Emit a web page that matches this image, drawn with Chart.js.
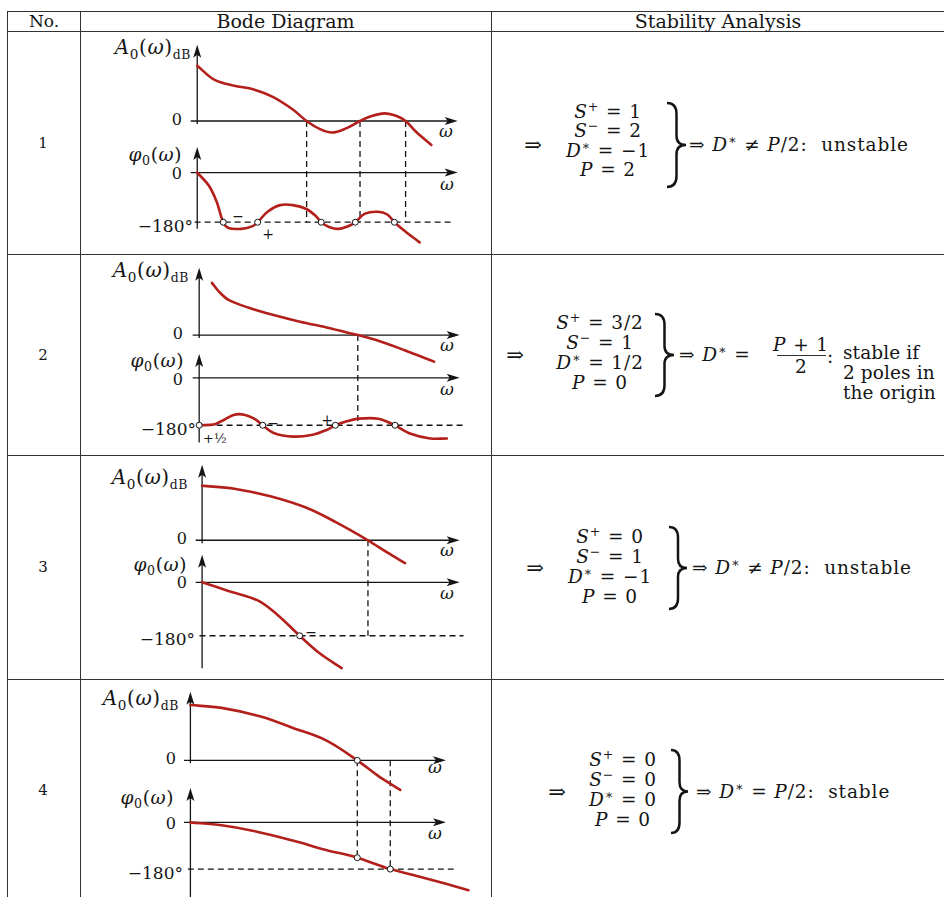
<!DOCTYPE html>
<html><head><meta charset="utf-8">
<script src="https://cdn.jsdelivr.net/npm/chart.js@4"></script>
<style>
body{margin:0;background:#fff;}
#stage{position:relative;width:944px;height:897px;overflow:hidden;background:#fff;font-family:"DejaVu Serif",serif;color:#151515;}
.t{position:absolute;white-space:nowrap;line-height:1;}
.ln{position:absolute;background:#333;}
i{font-style:italic;}
sub,sup{font-size:68%;line-height:0;}
canvas{position:absolute;}
</style></head>
<body><div id="stage"></div>
<script>
// ================= DATA =================
const headers = ['No.', 'Bode Diagram', 'Stability Analysis'];
const caseNumbers = ['1', '2', '3', '4'];

// Case 1
const amp1Omega = [0, 0.67, 1.42, 2.17, 2.92, 3.67, 4.2, 4.68, 5.17, 5.69, 6.25, 6.67, 7.19, 7.68, 8.0, 8.43, 8.99];
const amp1Db = [29, 21.5, 18.5, 16.5, 12.5, 6, 0, -4, -6, -4, 0, 2.5, 4, 2.5, 0, -6, -12.5];
const phase1Omega = [0, 0.45, 0.75, 1.0, 1.2, 1.69, 2.13, 2.32, 2.7, 3.18, 3.67, 4.19, 4.57, 4.76, 5.06, 5.43, 5.81, 6.07, 6.44, 6.93, 7.3, 7.57, 8.05, 8.54];
const phase1Deg = [0, -48, -107, -180, -201, -204, -194, -180, -142, -118, -118, -132, -159, -180, -197, -204, -194, -180, -149, -142, -152, -180, -218, -253];
const marks1Omega = [1.0, 2.32, 4.76, 6.07, 7.57];
const marks1Deg = [-180, -180, -180, -180, -180];
const drops1Omega = [4.2, 6.25, 8.0];
const drops1Deg = [-180, -180, -180];

// Case 2
const amp2Omega = [0.49, 0.75, 1.13, 1.88, 2.86, 3.87, 4.89, 5.64, 6.09, 6.88, 7.89, 9.02];
const amp2Db = [27.5, 23, 18.5, 14.5, 10.5, 7, 4, 1.5, 0, -3, -8, -14];
const phase2Omega = [0, 0.6, 0.98, 1.35, 1.73, 2.11, 2.44, 2.86, 3.61, 4.36, 4.89, 5.23, 5.64, 6.13, 6.88, 7.37, 7.52, 8.12, 8.87, 9.51];
const phase2Deg = [-180, -176, -158, -140, -140, -155, -180, -209, -223, -216, -198, -180, -166, -155, -155, -173, -180, -212, -230, -230];
const marks2Omega = [0, 2.44, 5.23, 7.52];
const marks2Deg = [-180, -180, -180, -180];
const drops2Omega = [6.09];
const drops2Deg = [-180];

// Case 3
const amp3Omega = [0, 1.25, 2.65, 4.05, 5.19, 6.44, 7.2, 7.88];
const amp3Db = [28.5, 27, 23, 17, 9.5, 0, -6.5, -12];
const phase3Omega = [0, 1.02, 2.16, 2.92, 3.79, 4.55, 5.42];
const phase3Deg = [0, -29, -61, -109, -180, -238, -289];
const marks3Omega = [3.79];
const marks3Deg = [-180];
const drops3Omega = [6.44];
const drops3Deg = [-180];

// Case 4
const amp4Omega = [0, 1.22, 2.75, 4.01, 5.31, 6.53, 7.33, 8.21];
const amp4Db = [29, 27.5, 23, 17, 10.5, 0, -8, -15.5];
const phase4Omega = [0, 1.22, 2.48, 4.01, 5.31, 6.53, 7.82, 9.12, 10.88];
const phase4Deg = [0, -11, -33, -70, -106, -136, -180, -213, -261];
const marks4Omega = [6.53, 7.82];
const marks4Deg = [-136, -180];
const ampMarks4Omega = [6.53];
const ampMarks4Db = [0];
const drops4Omega = [6.53, 7.82];
const drops4Deg = [-136, -180];

// Stability analysis values
const sPlus = ['1', '3/2', '0', '0'];
const sMinus = ['2', '1', '1', '0'];
const dStar = ['\u22121', '1/2', '\u22121', '0'];
const pOpen = ['2', '0', '0', '0'];
const verdicts = ['unstable', 'stable if', 'unstable', 'stable'];
const verdict2Extra = ['2 poles in', 'the origin'];

// ================= LAYOUT (positions only) =================
const layout = [
  {top:32, bottom:253, axisX:195, tipX:462, zeroA:120, zeroP:174, m180:226, ampTop:40, phTop:93, phBottom:-204, refEnd:9.8},
  {top:256, bottom:454, axisX:197, tipX:464, zeroA:334, zeroP:379, m180:429, ampTop:35.5, phTop:90, phBottom:-245, refEnd:10.2},
  {top:456, bottom:678, axisX:200, tipX:464, zeroA:539, zeroP:583, m180:639, ampTop:39.5, phTop:93, phBottom:-289, refEnd:10.15},
  {top:680, bottom:897, axisX:188, tipX:450, zeroA:759, zeroP:824, m180:873, ampTop:36, phTop:132, phBottom:-300, refEnd:10.3}
];
const CURVE = '#b3201c';
const stage = document.getElementById('stage');

function put(html, x, y, ax, size, extra) {
  const d = document.createElement('div');
  d.className = 't';
  d.innerHTML = html;
  d.style.left = x + 'px';
  d.style.top = y + 'px';
  d.style.fontSize = size + 'px';
  d.style.transform = 'translate(' + (-ax * 100) + '%,-50%)';
  if (extra) Object.assign(d.style, extra);
  stage.appendChild(d);
  return d;
}
function rect(x, y, w, h) {
  const d = document.createElement('div');
  d.className = 'ln';
  Object.assign(d.style, {left:x+'px', top:y+'px', width:w+'px', height:h+'px'});
  stage.appendChild(d);
}
function brace(x1, y1, x2, y2) {
  const w = x2 - x1, h = y2 - y1, m = w / 2;
  const p = `M2 2 Q${2+m} 2 ${2+m} ${2+h*0.13} L${2+m} ${2+h/2-h*0.11} Q${2+m} ${2+h/2} ${2+w} ${2+h/2} Q${2+m} ${2+h/2} ${2+m} ${2+h/2+h*0.11} L${2+m} ${2+h-h*0.13} Q${2+m} ${2+h} 2 ${2+h}`;
  const s = document.createElement('div');
  s.innerHTML = `<svg width="${w+4}" height="${h+4}" style="position:absolute;left:${x1-2}px;top:${y1-2}px"><path d="${p}" fill="none" stroke="#151515" stroke-width="2.5"/></svg>`;
  stage.appendChild(s.firstChild);
}

// ---------- table grid ----------
[11, 31, 254, 455, 679].forEach(y => rect(7, y - 0.5, 944, 1.5));
[7, 80, 491].forEach(x => rect(x - 0.5, 11, 1.5, 897));

put(headers[0], 44, 21, 0.5, 17);
put(headers[1], 285.5, 21, 0.5, 19);
put(headers[2], 718, 21, 0.5, 19);
[143, 355, 567, 790].forEach((y, i) => put(caseNumbers[i], 43, y, 0.5, 15));

// ---------- diagram labels ----------
const AMP = '<i>A</i><sub>0</sub>(<i>\u03c9</i>)<sub style="font-size:62%">dB</sub>';
const PH = '<i>\u03c6</i><sub>0</sub>(<i>\u03c9</i>)';
const W = '<i>\u03c9</i>';
const LAB = {letterSpacing: '0.6px'};
const labelPos = [
  {amp:[191,47], a0:[182,120], wa:[446,131], ph:[182,155], p0:[182,174], wp:[447,184], m:[193,226]},
  {amp:[189,270], a0:[183,334], wa:[447,345], ph:[184,361], p0:[183,380], wp:[447,389], m:[196,429]},
  {amp:[188,477], a0:[187,539], wa:[447,550], ph:[187,565], p0:[187,583], wp:[447,593], m:[195,639]},
  {amp:[179,698], a0:[176,759], wa:[435,767], ph:[174,798], p0:[176,824], wp:[435,833], m:[183,873]}
];
labelPos.forEach(L => {
  put(AMP, L.amp[0], L.amp[1], 1, 20, LAB);
  put('0', L.a0[0], L.a0[1], 1, 16);
  put(W, L.wa[0], L.wa[1], 0.5, 17);
  put(PH, L.ph[0], L.ph[1], 1, 18.5, LAB);
  put('0', L.p0[0], L.p0[1], 1, 16);
  put(W, L.wp[0], L.wp[1], 0.5, 17);
  put('\u2212180\u00b0', L.m[0], L.m[1], 1, 17);
});
put('\u2212', 238, 216, 0.5, 14); put('+', 268, 234, 0.5, 14);
put('\u2212', 273, 423, 0.5, 14); put('+', 327, 420, 0.5, 14);
put('+\u00bd', 203, 438, 0, 13);
put('\u2212', 311, 632, 0.5, 14);

// ---------- stability analysis ----------
const stab = [
  {arrow:[533,145], eqX:608, eqY:112, gap:19.3, br:[667,103,686,187], res:[689,145]},
  {arrow:[515,355], eqX:600, eqY:323, gap:20, br:[655,314,674,396], res:[679,355]},
  {arrow:[535,568], eqX:610, eqY:537, gap:20, br:[669,527,687,609], res:[692,568]},
  {arrow:[557,792], eqX:623, eqY:760, gap:20, br:[671,750,688,833], res:[696,792]}
];
const EQ = 18.5;
const EQS = {letterSpacing: '0.9px'};
const EQN = {letterSpacing: '0.1px'};
stab.forEach((s, i) => {
  put('\u21d2', s.arrow[0], s.arrow[1], 0.5, 21);
  const lines = [
    '<i>S</i><sup>+</sup> = ' + sPlus[i],
    '<i>S</i><sup>\u2212</sup> = ' + sMinus[i],
    '<i>D</i><sup>\u2217</sup> = ' + dStar[i],
    '<i>P</i> = ' + pOpen[i]
  ];
  lines.forEach((h, k) => put(h, s.eqX, s.eqY + k * s.gap, 0.5, EQ, EQS));
  brace(...s.br);
  if (i === 1) {
    put('\u21d2 <i>D</i><sup>\u2217</sup> =', s.res[0], s.res[1], 0, EQ, EQS);
    put('<i>P</i> + 1', 801, 345, 0.5, EQ, EQS);
    rect(777, 355, 49, 1.3);
    put('2', 801, 367, 0.5, EQ);
    put(':', 830, 357, 0.5, EQ);
    put(verdicts[i], 843, 353, 0, EQ, EQN);
    put(verdict2Extra[0], 843, 373, 0, EQ, EQN);
    put(verdict2Extra[1], 843, 393, 0, EQ, EQN);
  } else {
    const rel = i === 3 ? '=' : '\u2260';
    put('\u21d2 <i>D</i><sup>\u2217</sup> ' + rel + ' <i>P</i>/2:&nbsp; ' + verdicts[i], s.res[0], s.res[1], 0, EQ, EQS);
  }
});

// ================= CHARTS =================
const bodeAxes = {
  id: 'bodeAxes',
  beforeDatasetsDraw(chart, args, o) {
    const {ctx, scales} = chart;
    const X = v => scales.x.getPixelForValue(v);
    const A = v => scales.yA.getPixelForValue(v);
    const P = v => scales.yP.getPixelForValue(v);
    ctx.save();
    ctx.strokeStyle = '#151515'; ctx.fillStyle = '#151515'; ctx.lineWidth = 1.3;
    const seg = (x1, y1, x2, y2) => { ctx.beginPath(); ctx.moveTo(x1, y1); ctx.lineTo(x2, y2); ctx.stroke(); };
    const arrowR = (x, y) => { ctx.beginPath(); ctx.moveTo(x, y); ctx.lineTo(x - 13, y - 4); ctx.lineTo(x - 10, y); ctx.lineTo(x - 13, y + 4); ctx.closePath(); ctx.fill(); };
    const arrowU = (x, y) => { ctx.beginPath(); ctx.moveTo(x, y); ctx.lineTo(x - 4, y + 13); ctx.lineTo(x, y + 10); ctx.lineTo(x + 4, y + 13); ctx.closePath(); ctx.fill(); };
    // amplitude axes
    seg(X(-0.25), A(0), X(10) - 4, A(0)); arrowR(X(10), A(0));
    seg(X(0), A(-1.5), X(0), A(o.ampTop) + 4); arrowU(X(0), A(o.ampTop));
    // phase axes
    seg(X(-0.25), P(0), X(10) - 4, P(0)); arrowR(X(10), P(0));
    seg(X(0), P(o.phBottom), X(0), P(o.phTop) + 4); arrowU(X(0), P(o.phTop));
    // crossover drop lines
    ctx.setLineDash([6, 4]);
    o.dropsOmega.forEach((w, k) => seg(X(w), A(0), X(w), P(o.dropsDeg[k])));
    ctx.restore();
  }
};

function pts(xs, ys) { return xs.map((x, k) => ({x, y: ys[k]})); }

function makeRow(L, ampO, ampD, phO, phD, mO, mD, dO, dD, amO, amD) {
  const left = 82, w = 408, h = L.bottom - L.top;
  const ppu = (L.tipX - L.axisX) / 10;
  const ppd = (L.m180 - L.zeroP) / 180;
  const c = document.createElement('canvas');
  c.width = w; c.height = h;
  c.style.left = left + 'px'; c.style.top = L.top + 'px';
  c.style.width = w + 'px'; c.style.height = h + 'px';
  stage.appendChild(c);
  const curve = {borderColor: CURVE, borderWidth: 2.6, pointRadius: 0, tension: 0.35, fill: false, borderCapStyle: 'round', borderJoinStyle: 'round', order: 1};
  const mark = {showLine: false, pointRadius: 3, pointBackgroundColor: '#fff', pointBorderColor: '#151515', pointBorderWidth: 1, order: 0};
  const datasets = [
    Object.assign({data: pts(ampO, ampD), yAxisID: 'yA'}, curve),
    Object.assign({data: pts(phO, phD), yAxisID: 'yP'}, curve),
    {data: [{x: -0.1, y: -180}, {x: L.refEnd, y: -180}], yAxisID: 'yP', borderColor: '#151515', borderWidth: 1.3, borderDash: [6, 4], pointRadius: 0, order: 2},
    Object.assign({data: pts(mO, mD), yAxisID: 'yP'}, mark)
  ];
  if (amO) datasets.push(Object.assign({data: pts(amO, amD), yAxisID: 'yA'}, mark));
  new Chart(c, {
    type: 'line',
    data: {datasets},
    plugins: [bodeAxes],
    options: {
      responsive: false, animation: false, devicePixelRatio: 1,
      layout: {padding: 0},
      events: [],
      plugins: {legend: {display: false}, tooltip: {enabled: false},
        bodeAxes: {ampTop: L.ampTop, phTop: L.phTop, phBottom: L.phBottom, dropsOmega: dO, dropsDeg: dD}},
      scales: {
        x: {type: 'linear', display: false, min: (left - L.axisX) / ppu, max: (left + w - L.axisX) / ppu},
        yA: {type: 'linear', display: false, min: -(L.bottom - L.zeroA) / 2, max: (L.zeroA - L.top) / 2},
        yP: {type: 'linear', display: false, min: -(L.bottom - L.zeroP) / ppd, max: (L.zeroP - L.top) / ppd}
      }
    }
  });
}

makeRow(layout[0], amp1Omega, amp1Db, phase1Omega, phase1Deg, marks1Omega, marks1Deg, drops1Omega, drops1Deg);
makeRow(layout[1], amp2Omega, amp2Db, phase2Omega, phase2Deg, marks2Omega, marks2Deg, drops2Omega, drops2Deg);
makeRow(layout[2], amp3Omega, amp3Db, phase3Omega, phase3Deg, marks3Omega, marks3Deg, drops3Omega, drops3Deg);
makeRow(layout[3], amp4Omega, amp4Db, phase4Omega, phase4Deg, marks4Omega, marks4Deg, drops4Omega, drops4Deg, ampMarks4Omega, ampMarks4Db);
</script>
</body></html>
